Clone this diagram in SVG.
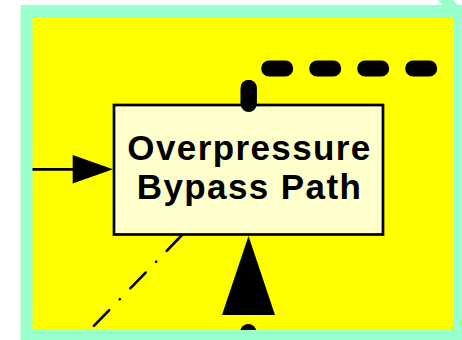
<svg xmlns="http://www.w3.org/2000/svg" width="462" height="340" viewBox="0 0 462 340">
<style>
.frame{fill:none;stroke:#99FFCC;stroke-width:12}
.box{fill:#FFFFCC;stroke:#000;stroke-width:2.7}
.lbl{font-family:"Liberation Sans",Arial,sans-serif;font-weight:bold;font-size:35px;letter-spacing:1.4px;fill:#000;text-anchor:middle}
.thick{fill:none;stroke:#000;stroke-width:16;stroke-linecap:round}
.thin{fill:none;stroke:#000;stroke-width:2.7}
</style>
<rect x="26.5" y="11" width="432.5" height="325" fill="#FFFF00"/>
<g id="connectors">
<path class="thick" d="M248.7 104 V68.5 H480" stroke-dasharray="16 40 16 32 16 32 16 32 16 32 16 32 16 32"/>
<path class="thin" d="M30 169.3 H74"/>
<polygon points="72.7,155 72.7,183.5 113,169.3" fill="#000"/>
<path d="M182 235 L88 332" fill="none" stroke="#000" stroke-width="2.6" stroke-linecap="round" stroke-dasharray="22 15 0.3 15"/>
<polygon points="248.5,236 222,315 275,315" fill="#000"/>
<path class="thick" d="M248.3 332 V360"/>
</g>
<g id="node-bypass">
<rect class="box" x="114" y="105" width="269" height="129.5"/>
<text class="lbl" x="249.5" y="159.5">Overpressure</text>
<text class="lbl" x="249.5" y="199">Bypass Path</text>
</g>
<path d="M248.7 104 V88" class="thick"/>
<rect class="frame" x="26.5" y="11" width="432.5" height="325"/>
<path d="M432 -14 L456 11" fill="none" stroke="#99FFCC" stroke-width="11" stroke-linecap="round"/>
</svg>
